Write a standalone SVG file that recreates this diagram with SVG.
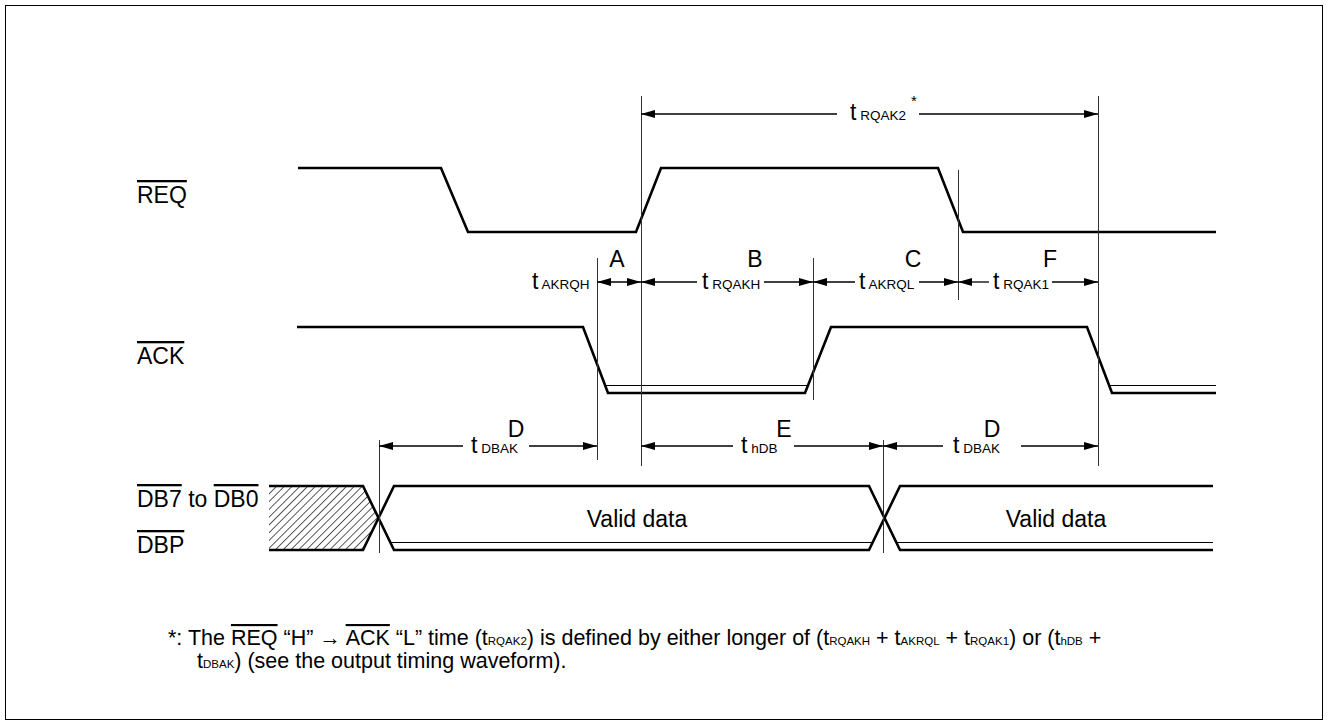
<svg xmlns="http://www.w3.org/2000/svg" width="1328" height="725" viewBox="0 0 1328 725">
<style>
text{font-family:"Liberation Sans",Arial,sans-serif;fill:#000}
.lbl{font-size:23px}
.ol{text-decoration:overline}
.sub{font-size:13.5px}
.fn{font-size:21.5px}
.fs{font-size:11.5px}
.wave{fill:none;stroke:#000;stroke-width:2.6;stroke-linejoin:miter}
.thin{fill:none;stroke:#000;stroke-width:1}
.bar{stroke:#333;stroke-width:1}
.dim{stroke:#000;stroke-width:1.3;marker-end:url(#ah)}
.dims{stroke:#000;stroke-width:1.3;marker-start:url(#ah)}
.dimb{stroke:#000;stroke-width:1.3;marker-start:url(#ah);marker-end:url(#ah)}
</style>
<defs>
<marker id="ah" markerUnits="userSpaceOnUse" markerWidth="14" markerHeight="8" refX="14" refY="4" orient="auto-start-reverse">
<path d="M0,0 L14,4 L0,8 z" fill="#000"/>
</marker>
<pattern id="hatch" patternUnits="userSpaceOnUse" width="5.5" height="5.5" patternTransform="rotate(45)">
<line x1="0" y1="0" x2="0" y2="5.5" stroke="#000" stroke-width="1.3"/>
</pattern>
</defs>
<rect x="5.5" y="5.5" width="1317" height="714" fill="#fff" stroke="#000" stroke-width="1"/>

<g id="req">
<text class="lbl" x="137" y="203"><tspan class="ol">REQ</tspan></text>
<polyline class="wave" points="298,168 441,168 468,232 636,232 661,168 938,168 963,232 1216,232"/>
</g>

<g id="ack">
<text class="lbl" x="137" y="364"><tspan class="ol">ACK</tspan></text>
<polyline class="wave" points="297,327 583,327 608,393 805,393 831,327 1087,327 1112,393 1216,393"/>
<line class="thin" x1="605" y1="385.5" x2="808" y2="385.5"/>
<line class="thin" x1="1109" y1="385.5" x2="1216" y2="385.5"/>
</g>

<g id="db">
<text class="lbl" x="137" y="507"><tspan class="ol">DB7</tspan> to <tspan class="ol">DB0</tspan></text>
<text class="lbl" x="137" y="553"><tspan class="ol">DBP</tspan></text>
<polygon points="269,486 363,486 378.5,518 364,550 269,550" fill="url(#hatch)" stroke="none"/>
<path class="wave" d="M269,486 H363 L394,550 H869 L900,486 H1213"/>
<path class="wave" d="M269,550 H363 L394,486 H869 L900,550 H1213"/>
<line class="thin" x1="390" y1="542.5" x2="873" y2="542.5"/>
<line class="thin" x1="896" y1="542.5" x2="1213" y2="542.5"/>
<text class="lbl" x="637" y="527" text-anchor="middle">Valid data</text>
<text class="lbl" x="1056" y="527" text-anchor="middle">Valid data</text>
</g>

<g id="connectors">
<line class="bar" x1="641.5" y1="96" x2="641.5" y2="466"/>
<line class="bar" x1="1098.5" y1="96" x2="1098.5" y2="466"/>
<line class="bar" x1="958.5" y1="170" x2="958.5" y2="300"/>
<line class="bar" x1="597.5" y1="258" x2="597.5" y2="460"/>
<line class="bar" x1="813.5" y1="258" x2="813.5" y2="400"/>
<line class="bar" x1="379.5" y1="440" x2="379.5" y2="553"/>
<line class="bar" x1="883.5" y1="440" x2="883.5" y2="553"/>

<line class="dims" x1="641" y1="114" x2="837" y2="114"/>
<line class="dim" x1="919" y1="114" x2="1098" y2="114"/>

<line class="dimb" x1="597" y1="282" x2="641" y2="282"/>
<line class="dims" x1="641" y1="282" x2="697" y2="282"/>
<line class="dim" x1="764" y1="282" x2="813" y2="282"/>
<line class="dims" x1="813" y1="282" x2="855" y2="282"/>
<line class="dim" x1="919" y1="282" x2="958" y2="282"/>
<line class="dims" x1="958" y1="282" x2="989" y2="282"/>
<line class="dim" x1="1052" y1="282" x2="1098" y2="282"/>

<line class="dims" x1="379" y1="446" x2="463" y2="446"/>
<line class="dim" x1="529" y1="446" x2="597" y2="446"/>
<line class="dims" x1="641" y1="446" x2="733" y2="446"/>
<line class="dim" x1="794" y1="446" x2="883" y2="446"/>
<line class="dims" x1="883" y1="446" x2="943" y2="446"/>
<line class="dim" x1="1021" y1="446" x2="1098" y2="446"/>
</g>

<g id="labels">
<text class="lbl" x="850" y="120">t<tspan class="sub"> RQAK2</tspan></text>
<text x="911" y="106" style="font-size:15px">*</text>

<text class="lbl" x="532" y="289">t<tspan class="sub"> AKRQH</tspan></text>
<text class="lbl" x="617" y="267" text-anchor="middle">A</text>
<text class="lbl" x="702" y="289">t<tspan class="sub"> RQAKH</tspan></text>
<text class="lbl" x="755" y="267" text-anchor="middle">B</text>
<text class="lbl" x="859" y="289">t<tspan class="sub"> AKRQL</tspan></text>
<text class="lbl" x="913" y="267" text-anchor="middle">C</text>
<text class="lbl" x="993" y="289">t<tspan class="sub"> RQAK1</tspan></text>
<text class="lbl" x="1050" y="267" text-anchor="middle">F</text>

<text class="lbl" x="471" y="453">t<tspan class="sub"> DBAK</tspan></text>
<text class="lbl" x="516" y="437" text-anchor="middle">D</text>
<text class="lbl" x="741" y="453">t<tspan class="sub"> hDB</tspan></text>
<text class="lbl" x="784" y="437" text-anchor="middle">E</text>
<text class="lbl" x="953" y="453">t<tspan class="sub"> DBAK</tspan></text>
<text class="lbl" x="992" y="437" text-anchor="middle">D</text>
</g>

<g id="footnote">
<text class="fn" x="168" y="645">*: The <tspan class="ol">REQ</tspan> “H” → <tspan class="ol">ACK</tspan> “L” time (t<tspan class="fs">RQAK2</tspan>) is defined by either longer of (t<tspan class="fs">RQAKH</tspan> + t<tspan class="fs">AKRQL</tspan> + t<tspan class="fs">RQAK1</tspan>) or (t<tspan class="fs">hDB</tspan> +</text>
<text class="fn" x="197" y="668">t<tspan class="fs">DBAK</tspan>) (see the output timing waveform).</text>
</g>
</svg>
